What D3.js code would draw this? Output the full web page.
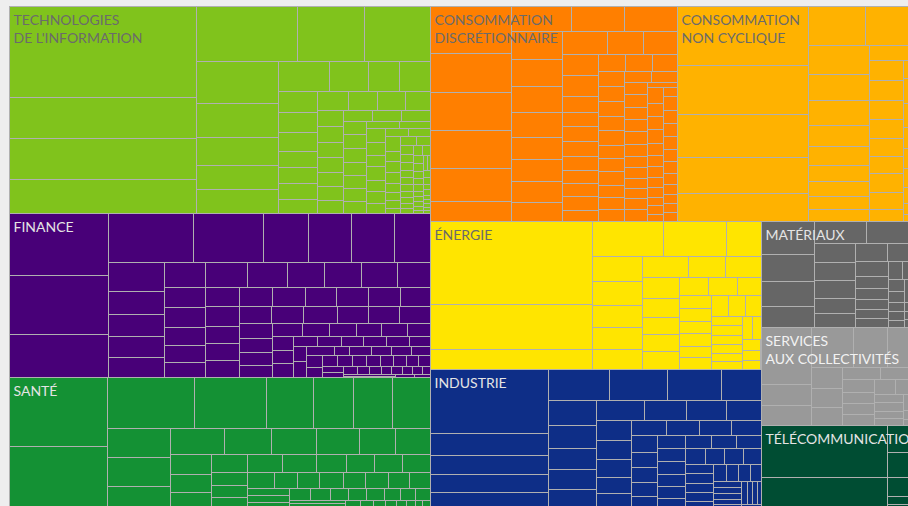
<!DOCTYPE html>
<html><head><meta charset="utf-8">
<script src="https://cdn.jsdelivr.net/npm/d3@7"></script>
<style>
html,body{margin:0;padding:0;background:#eeeeee;}
svg{display:block;}
</style></head><body>
<svg id="chart" width="908" height="506"></svg>
<script>
// ---- Data (capitalisation par titre, regroupée par bandes de rangement) ----
const sectorLabels = [
  ["TECHNOLOGIES", "DE L'INFORMATION"], ["FINANCE"], ["SANTÉ"],
  ["CONSOMMATION", "DISCRÉTIONNAIRE"], ["CONSOMMATION", "NON CYCLIQUE"],
  ["ÉNERGIE"], ["INDUSTRIE"], ["MATÉRIAUX"],
  ["SERVICES", "AUX COLLECTIVITÉS"], ["TÉLÉCOMMUNICATIONS"]
];
const sectorGroups = [[0, 1, 2], [3, 4], [5, 6], [7], [8, 9]];

const technologies = [
  [1702, 767, 767, 636], [556, 369, 363], [344, 279, 230, 197, 197], [153, 117, 93, 93],
  [81, 77, 77, 61, 62, 62, 55], [58, 53, 53, 46], [42, 42, 40, 39, 39, 35, 35], [31, 32, 31],
  [32, 30, 32, 32, 29, 30, 27], [24, 23], [26, 25, 21, 25, 22, 22, 19], [18, 18],
  [22, 16, 16, 17, 13, 13, 11, 8], [14, 12], [12, 11, 10, 10, 9, 9, 8, 8, 7, 6], [9, 8],
  [8, 7, 7, 6, 6, 5, 5, 4, 4, 3], [6, 5], [5, 5, 4, 4, 3, 3, 3, 2, 2]
];
const finance = [
  [612, 579, 427], [416, 340, 220, 208, 209, 176], [162, 131, 124, 117, 113],
  [103, 104, 99, 92, 92, 90, 83], [84, 86, 73, 70, 64], [66, 65, 65, 63, 63, 62, 60],
  [64, 59, 57, 56], [52, 54, 55, 51, 51, 51], [51, 47, 43, 41], [39, 37, 35, 34, 35, 30],
  [29, 26, 28], [25, 25, 23, 24, 23, 22], [19, 21], [25, 14, 19, 18, 18, 17], [18, 17],
  [16, 16, 15, 15, 14, 14, 13, 13], [12, 11], [11, 10, 10, 9, 9, 8, 8, 7], [7, 6], [5, 4]
];
const sante = [
  [679, 620], [438, 365, 236, 203, 198, 191], [184, 182, 143], [144, 125, 120, 114, 95, 94],
  [82, 75, 70], [65, 63, 62, 54, 51, 51, 51], [45, 44, 43], [42, 37, 36, 38, 35, 36, 33, 34],
  [30, 29, 28], [24, 23, 22, 21, 20, 19, 18, 17], [18, 17, 16], [13, 12, 11, 10, 9, 8, 7, 7]
];
const consoDiscretionnaire = [
  [383, 316, 308, 305, 270, 162], [150, 131, 131], [144, 136, 133, 129, 114, 109, 107, 98],
  [103, 83, 79], [75, 74, 57, 52, 53, 53, 50, 46, 46, 48, 40], [45, 46, 41],
  [40, 42, 39, 37, 39, 34, 36, 36, 32, 32, 32], [30, 29],
  [29, 29, 28, 29, 29, 28, 26, 24, 24, 23, 25, 28], [16],
  [25, 22, 21, 21, 20, 18, 18, 16, 15, 14, 13, 12], [12],
  [19, 18, 18, 17, 17, 16, 15, 14, 13, 12, 12]
];
const consoNonCyclique = [
  [779, 643, 560, 477, 368], [217, 190], [176, 160, 148, 124, 116, 98, 86, 80, 72], [68],
  [72, 69, 65, 63, 63, 60, 65, 58, 41], [20], [28, 26, 24, 22, 20, 18, 12, 8]
];
const energie = [
  [1345, 729, 324], [245, 218, 122], [128, 117, 110, 112, 100], [98, 81, 77],
  [78, 67, 63, 63, 66], [52, 50, 43], [42, 41, 40, 39, 38, 37], [36, 35, 34],
  [30, 29, 28, 27, 26, 25], [24, 22], [20, 18, 16], [4]
];
const industrie = [
  [755, 252, 234, 206, 201], [190, 180, 168, 124], [122, 113, 100, 98, 97], [96, 85, 82, 70],
  [67, 64, 62, 56, 54], [53, 49, 47, 45], [44, 42, 38, 37, 36], [36, 34, 33, 32],
  [36, 35, 34, 33, 32], [31, 30, 29, 28], [27, 26, 25, 24, 23], [22, 21, 20, 19],
  [18, 17, 16, 15, 14], [13, 12, 11, 10], [6, 5]
];
const materiaux = [
  [176, 142, 130, 114], [113, 106], [80, 72, 75, 61, 59], [59, 49], [47, 38, 36, 33, 30, 28],
  [25, 22], [20, 18, 16, 14, 12], [12, 10], [9, 8, 8]
];
const services = [
  [283, 105, 101], [168, 134, 107], [64, 60, 55], [48, 42], [40, 38, 36, 34], [30, 28],
  [26, 24, 22, 20], [18], [10, 6]
];
const telecom = [[653, 408], [72], [66, 52, 20, 14]];

const sectorValues = [technologies, finance, sante, consoDiscretionnaire, consoNonCyclique,
  energie, industrie, materiaux, services, telecom];

// ---- Styles ----
const sectorColors = ["#80c31c", "#480078", "#149134", "#ff7f00", "#ffb200",
  "#ffe500", "#0e2e87", "#666666", "#999999", "#004d33"];
const labelColors = ["#6b6b6b", "#e4e4e4", "#e4e4e4", "#6b6b6b", "#6b6b6b",
  "#6b6b6b", "#e4e4e4", "#e4e4e4", "#f2f2f2", "#e4e4e4"];

const X0 = 10, Y0 = 7, W = 905, H = 503;

const rootData = {
  children: sectorGroups.map(g => ({
    band: true,
    children: g.map(i => ({
      sector: i,
      children: sectorValues[i].map(row => ({band: true, children: row.map(v => ({value: v}))}))
    }))
  }))
};

function alternateTile(node, x0, y0, x1, y1) {
  if (node.data.band) {
    const idx = node.parent.children.indexOf(node);
    (idx % 2 === 0 ? d3.treemapSlice : d3.treemapDice)(node, x0, y0, x1, y1);
    return;
  }
  let rest = node.value;
  node.children.forEach((c, i) => {
    const k = rest > 0 ? c.value / rest : 1;
    c.x0 = x0; c.y0 = y0;
    if (i % 2 === 0) { const xm = x0 + (x1 - x0) * k; c.x1 = xm; c.y1 = y1; x0 = xm; }
    else { const ym = y0 + (y1 - y0) * k; c.x1 = x1; c.y1 = ym; y0 = ym; }
    rest -= c.value;
  });
}

const root = d3.hierarchy(rootData).sum(d => d.value || 0);
d3.treemap().size([W, H]).tile(alternateTile).round(false)(root);

const svg = d3.select("#chart");
const g = svg.append("g").attr("transform", `translate(${X0},${Y0})`);

const sectorOf = n => n.ancestors().find(a => a.data.sector !== undefined).data.sector;
const leaves = root.leaves();
const R = Math.round;

// fills
g.append("g").selectAll("rect").data(leaves).join("rect")
  .attr("x", d => R(d.x0)).attr("y", d => R(d.y0))
  .attr("width", d => Math.max(0, R(d.x1) - R(d.x0))).attr("height", d => Math.max(0, R(d.y1) - R(d.y0)))
  .attr("fill", d => sectorColors[sectorOf(d)])
  .attr("shape-rendering", "crispEdges");

// outlines
g.append("g").selectAll("rect").data(leaves).join("rect")
  .attr("x", d => R(d.x0) - 0.5).attr("y", d => R(d.y0) - 0.5)
  .attr("width", d => Math.max(0, R(d.x1) - R(d.x0))).attr("height", d => Math.max(0, R(d.y1) - R(d.y0)))
  .attr("fill", "none")
  .attr("stroke", "#b0b0b0").attr("stroke-width", 1);

const sectors = root.descendants().filter(d => d.data.sector !== undefined);
const lab = g.selectAll("text.lab").data(sectors).join("text")
  .attr("class", "lab")
  .attr("x", d => d.x0 + 3.5).attr("y", d => d.y0 + 17.5)
  .attr("fill", d => labelColors[d.data.sector])
  .style("font-family", "Lato, 'Open Sans', sans-serif")
  .style("font-size", "14px");
lab.selectAll("tspan").data(d => sectorLabels[d.data.sector].map(t => ({t, x: d.x0 + 3.5})))
  .join("tspan").attr("x", t => t.x).attr("dy", (t, i) => i === 0 ? 0 : 18.3).text(t => t.t);
</script>
</body></html>
